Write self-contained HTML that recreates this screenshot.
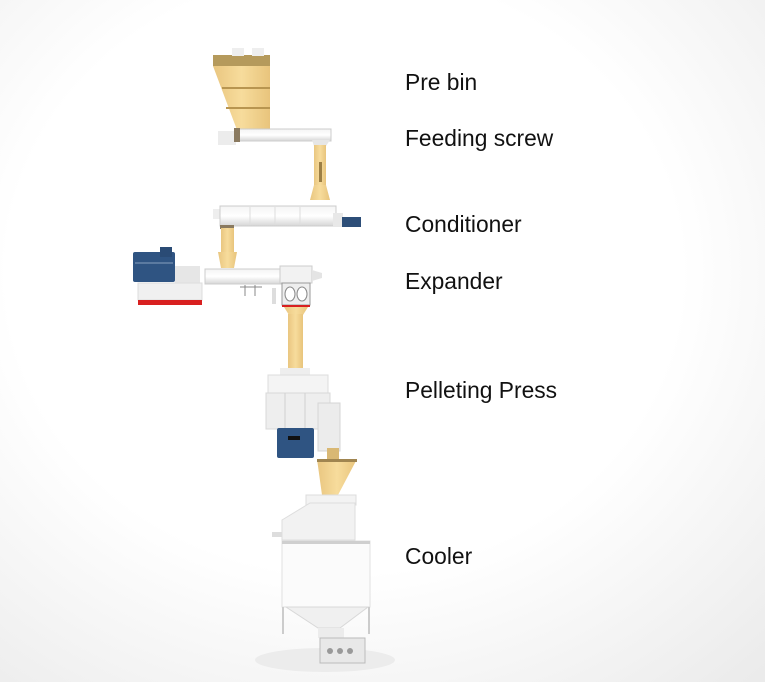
<!DOCTYPE html>
<html><head><meta charset="utf-8"><style>
html,body{margin:0;padding:0;}
body{width:765px;height:682px;overflow:hidden;background:#fff;}
svg{display:block}
text{font-family:"Liberation Sans",sans-serif;font-size:22.8px;fill:#111;}
</style></head><body>
<svg width="765" height="682" viewBox="0 0 765 682" xmlns="http://www.w3.org/2000/svg">
<defs>
<radialGradient id="bg" cx="0.45" cy="0.4" r="0.8">
<stop offset="0.55" stop-color="#ffffff"/><stop offset="1" stop-color="#ebebeb"/>
</radialGradient>
<linearGradient id="tube" x1="0" y1="0" x2="0" y2="1">
<stop offset="0" stop-color="#f4f4f4"/><stop offset="0.5" stop-color="#ffffff"/><stop offset="1" stop-color="#d6d6d6"/>
</linearGradient>
<linearGradient id="yel" x1="0" y1="0" x2="1" y2="0">
<stop offset="0" stop-color="#e9c680"/><stop offset="0.5" stop-color="#f7dc9c"/><stop offset="1" stop-color="#e8c47c"/>
</linearGradient>
</defs>
<rect width="765" height="682" fill="url(#bg)"/>
<ellipse cx="325" cy="660" rx="70" ry="12" fill="#ececec"/>

<!-- Pre bin -->
<rect x="213" y="55" width="57" height="11" fill="#b59a5c"/>
<rect x="232" y="48" width="12" height="8" fill="#eee"/><rect x="252" y="48" width="12" height="8" fill="#eee"/>
<polygon points="213,66 270,66 270,130 237,130" fill="url(#yel)"/>
<line x1="222" y1="88" x2="270" y2="88" stroke="#b89550" stroke-width="2"/>
<line x1="226" y1="108" x2="270" y2="108" stroke="#b89550" stroke-width="2"/>
<!-- Feeding screw -->
<rect x="218" y="131" width="18" height="14" fill="#ececec"/>
<rect x="235" y="129" width="96" height="12" fill="url(#tube)" stroke="#ccc" stroke-width="1"/>
<rect x="234" y="128" width="6" height="14" fill="#8a7a60"/>
<polygon points="312,140 330,140 326,146 314,146" fill="#e6e6e6"/>
<rect x="314" y="145" width="12" height="42" fill="url(#yel)"/>
<rect x="319" y="162" width="3" height="20" fill="#9c7f45"/>
<polygon points="314,185 326,185 330,200 310,200" fill="url(#yel)"/>
<!-- Conditioner -->
<rect x="213" y="209" width="10" height="10" fill="#eee"/>
<rect x="220" y="206" width="116" height="20" fill="url(#tube)" stroke="#ccc" stroke-width="1"/>
<line x1="250" y1="207" x2="250" y2="225" stroke="#ddd"/><line x1="275" y1="207" x2="275" y2="225" stroke="#ddd"/><line x1="300" y1="207" x2="300" y2="225" stroke="#ddd"/>
<rect x="333" y="213" width="10" height="14" fill="#e8e8e8"/>
<rect x="342" y="217" width="19" height="10" fill="#2d4e78"/>
<rect x="220" y="225" width="14" height="4" fill="#8a7a60"/>
<rect x="221" y="228" width="13" height="26" fill="url(#yel)"/>
<polygon points="218,252 237,252 234,268 221,268" fill="url(#yel)"/>
<!-- Expander -->
<rect x="133" y="252" width="42" height="30" rx="2" fill="#2f5482"/>
<rect x="160" y="247" width="12" height="10" fill="#2a4b75"/>
<rect x="135" y="262" width="38" height="2" fill="#5b7aa0"/>
<rect x="175" y="266" width="25" height="17" fill="#e6e6e6"/>
<rect x="138" y="283" width="64" height="17" fill="#f0f0f0" stroke="#ddd"/>
<rect x="138" y="300" width="64" height="5" fill="#d82020"/>
<rect x="205" y="269" width="80" height="15" fill="url(#tube)" stroke="#ccc"/>
<rect x="280" y="266" width="32" height="17" fill="#f2f2f2" stroke="#ccc"/>
<polygon points="312,270 322,273 322,278 312,281" fill="#e4e4e4"/>
<line x1="240" y1="287" x2="262" y2="287" stroke="#888"/><line x1="245" y1="285" x2="245" y2="296" stroke="#888"/><line x1="255" y1="285" x2="255" y2="296" stroke="#888"/>
<rect x="272" y="288" width="4" height="16" fill="#ddd"/>
<rect x="282" y="283" width="28" height="22" fill="#eee" stroke="#999"/>
<ellipse cx="290" cy="294" rx="5" ry="7" fill="#fff" stroke="#888"/><ellipse cx="302" cy="294" rx="5" ry="7" fill="#fff" stroke="#888"/>
<rect x="282" y="305" width="28" height="2" fill="#d82020"/>
<polygon points="284,307 308,307 303,315 289,315" fill="url(#yel)"/>
<rect x="288" y="314" width="15" height="54" fill="url(#yel)"/>
<!-- Pelleting press -->
<rect x="280" y="368" width="30" height="8" fill="#eee"/>
<rect x="268" y="375" width="60" height="18" fill="#f4f4f4" stroke="#ddd"/>
<rect x="266" y="393" width="64" height="36" fill="#eeeeee" stroke="#d8d8d8"/>
<line x1="285" y1="393" x2="285" y2="429" stroke="#d0d0d0"/><line x1="305" y1="393" x2="305" y2="429" stroke="#d0d0d0"/>
<rect x="318" y="403" width="22" height="48" fill="#ececec" stroke="#d5d5d5"/>
<rect x="277" y="428" width="37" height="30" rx="2" fill="#2f5482"/>
<rect x="288" y="436" width="12" height="4" fill="#111"/>
<rect x="327" y="448" width="12" height="12" fill="#d9b874"/>
<polygon points="317,459 357,459 338,495 322,495" fill="url(#yel)"/>
<rect x="317" y="459" width="40" height="3" fill="#a08550"/>
<!-- Cooler -->
<rect x="306" y="495" width="50" height="10" fill="#f3f3f3" stroke="#ddd"/>
<polygon points="282,520 310,503 355,503 355,540 282,540" fill="#f2f2f2" stroke="#ddd"/>
<rect x="272" y="532" width="10" height="5" fill="#ddd"/>
<rect x="282" y="541" width="88" height="66" fill="#fbfbfb" stroke="#e0e0e0"/>
<rect x="282" y="541" width="88" height="3" fill="#cfcfcf"/>
<polygon points="286,607 368,607 340,628 318,628" fill="#f0f0f0" stroke="#d8d8d8"/>
<line x1="283" y1="607" x2="283" y2="634" stroke="#ccc" stroke-width="2"/><line x1="369" y1="607" x2="369" y2="634" stroke="#ccc" stroke-width="2"/>
<rect x="318" y="628" width="26" height="10" fill="#ececec"/>
<rect x="320" y="638" width="45" height="25" fill="#e8e8e8" stroke="#bbb"/>
<circle cx="330" cy="651" r="3" fill="#999"/><circle cx="340" cy="651" r="3" fill="#999"/><circle cx="350" cy="651" r="3" fill="#999"/>

<text x="405" y="90">Pre bin</text>
<text x="405" y="146">Feeding screw</text>
<text x="405" y="232">Conditioner</text>
<text x="405" y="289">Expander</text>
<text x="405" y="398">Pelleting Press</text>
<text x="405" y="564">Cooler</text>
</svg>
</body></html>
